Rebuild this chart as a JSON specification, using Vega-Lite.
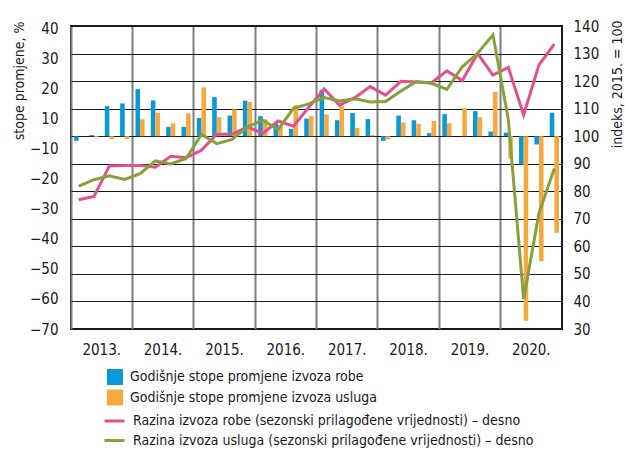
{
  "$schema": "https://vega.github.io/schema/vega-lite/v6.json",
  "width": 491,
  "height": 303,
  "autosize": {"type": "none"},
  "padding": {"left": 71, "top": 26, "right": 63, "bottom": 121},
  "background": "white",
  "config": {
    "font": "Liberation Sans Narrow, Arial Narrow, DejaVu Sans Condensed, sans-serif",
    "view": {"stroke": "#1a1a1a", "strokeWidth": 2}
  },
  "data": {
    "values": [
      {"q": "2013Q1", "stopa_robe": -1.7, "stopa_usluga": 0, "razina_robe": 76.9, "razina_usluga": 81.9},
      {"q": "2013Q2", "stopa_robe": 0.4, "stopa_usluga": -0.4, "razina_robe": 78.1, "razina_usluga": 84.2},
      {"q": "2013Q3", "stopa_robe": 10.9, "stopa_usluga": -1.0, "razina_robe": 89.2, "razina_usluga": 85.6},
      {"q": "2013Q4", "stopa_robe": 11.9, "stopa_usluga": -1.0, "razina_robe": 89.4, "razina_usluga": 84.3},
      {"q": "2014Q1", "stopa_robe": 17.1, "stopa_usluga": 6.1, "razina_robe": 89.4, "razina_usluga": 86.4},
      {"q": "2014Q2", "stopa_robe": 13.0, "stopa_usluga": 8.5, "razina_robe": 88.7, "razina_usluga": 91.0},
      {"q": "2014Q3", "stopa_robe": 3.4, "stopa_usluga": 4.7, "razina_robe": 92.7, "razina_usluga": 89.9},
      {"q": "2014Q4", "stopa_robe": 3.4, "stopa_usluga": 8.3, "razina_robe": 92.2, "razina_usluga": 91.9},
      {"q": "2015Q1", "stopa_robe": 6.6, "stopa_usluga": 17.7, "razina_robe": 94.9, "razina_usluga": 100.6},
      {"q": "2015Q2", "stopa_robe": 14.2, "stopa_usluga": 6.9, "razina_robe": 100.7, "razina_usluga": 97.3},
      {"q": "2015Q3", "stopa_robe": 7.5, "stopa_usluga": 9.7, "razina_robe": 100.7, "razina_usluga": 98.8},
      {"q": "2015Q4", "stopa_robe": 12.9, "stopa_usluga": 12.4, "razina_robe": 103.4, "razina_usluga": 103.4},
      {"q": "2016Q1", "stopa_robe": 7.3, "stopa_usluga": 6.1, "razina_robe": 101.0, "razina_usluga": 105.8},
      {"q": "2016Q2", "stopa_robe": 4.6, "stopa_usluga": 4.0, "razina_robe": 105.5, "razina_usluga": 102.4},
      {"q": "2016Q3", "stopa_robe": 2.7, "stopa_usluga": 11.3, "razina_robe": 103.6, "razina_usluga": 110.1},
      {"q": "2016Q4", "stopa_robe": 6.4, "stopa_usluga": 7.4, "razina_robe": 110.5, "razina_usluga": 111.7},
      {"q": "2017Q1", "stopa_robe": 16.8, "stopa_usluga": 7.9, "razina_robe": 117.1, "razina_usluga": 114.0},
      {"q": "2017Q2", "stopa_robe": 5.8, "stopa_usluga": 10.9, "razina_robe": 111.3, "razina_usluga": 112.8},
      {"q": "2017Q3", "stopa_robe": 8.4, "stopa_usluga": 3.0, "razina_robe": 114.0, "razina_usluga": 113.6},
      {"q": "2017Q4", "stopa_robe": 6.2, "stopa_usluga": 0.4, "razina_robe": 118.0, "razina_usluga": 112.4},
      {"q": "2018Q1", "stopa_robe": -1.7, "stopa_usluga": -1.2, "razina_robe": 114.9, "razina_usluga": 112.6},
      {"q": "2018Q2", "stopa_robe": 7.5, "stopa_usluga": 5.0, "razina_robe": 119.9, "razina_usluga": 116.4},
      {"q": "2018Q3", "stopa_robe": 5.8, "stopa_usluga": 4.5, "razina_robe": 119.7, "razina_usluga": 119.8},
      {"q": "2018Q4", "stopa_robe": 1.1, "stopa_usluga": 5.5, "razina_robe": 119.4, "razina_usluga": 119.2},
      {"q": "2019Q1", "stopa_robe": 8.0, "stopa_usluga": 4.7, "razina_robe": 123.7, "razina_usluga": 117.0},
      {"q": "2019Q2", "stopa_robe": 0, "stopa_usluga": 10.1, "razina_robe": 120.2, "razina_usluga": 125.2},
      {"q": "2019Q3", "stopa_robe": 9.1, "stopa_usluga": 6.9, "razina_robe": 130.0, "razina_usluga": 130.1},
      {"q": "2019Q4", "stopa_robe": 1.7, "stopa_usluga": 16.1, "razina_robe": 122.2, "razina_usluga": 136.8},
      {"q": "2020Q1", "stopa_robe": 1.3, "stopa_usluga": -8.1, "razina_robe": 125.0, "razina_usluga": 106.1},
      {"q": "2020Q2", "stopa_robe": -10.3, "stopa_usluga": -67.0, "razina_robe": 107.7, "razina_usluga": 40.9},
      {"q": "2020Q3", "stopa_robe": -3.0, "stopa_usluga": -45.4, "razina_robe": 125.9, "razina_usluga": 72.1},
      {"q": "2020Q4", "stopa_robe": 8.5, "stopa_usluga": -35.1, "razina_robe": 133.4, "razina_usluga": 88.3}
    ]
  },
  "encoding": {
    "x": {
      "field": "q",
      "type": "ordinal",
      "scale": {"paddingInner": 0, "paddingOuter": 0},
      "axis": {
        "title": null,
        "bandPosition": 0,
        "ticks": false,
        "domain": false,
        "labelAngle": 0,
        "labelAlign": "center",
        "labelBaseline": "top",
        "labelPadding": 13,
        "labelOffset": -7.67,
        "labelFontSize": 15,
        "labelColor": "#1a1a1a",
        "labelOverlap": false,
        "labelExpr": "indexof(datum.value, 'Q3') >= 0 ? slice(datum.value, 0, 4) + '.' : ''",
        "grid": true,
        "gridWidth": 2,
        "gridColor": {"condition": {"test": "indexof(datum.value, 'Q1') >= 0", "value": "#7f7f7f"}, "value": "rgba(0,0,0,0)"}
      }
    }
  },
  "layer": [
    {
      "transform": [{"fold": ["stopa_robe", "stopa_usluga"], "as": ["serija", "vrijednost"]}],
      "mark": {"type": "bar"},
      "encoding": {
        "xOffset": {"field": "serija", "type": "nominal", "scale": {"paddingInner": 0, "paddingOuter": 0.67}},
        "y": {
          "field": "vrijednost",
          "type": "quantitative",
          "scale": {"domain": [-70, 40], "nice": false, "zero": false},
          "axis": {
            "orient": "left",
            "title": "stope promjene, %",
            "titleFontSize": 14,
            "titleFontWeight": "normal",
            "titleColor": "#1a1a1a",
            "titleAngle": -90,
            "titleAlign": "right",
            "titleBaseline": "middle",
            "titleX": -52,
            "titleY": -5,
            "values": [39, 28.1, 17.2, 6.3, -4.6, -15.5, -26.4, -37.3, -48.2, -59.1, -70],
            "labelExpr": "round((39 - datum.value) / 10.9) < 4 ? '' + (40 - 10 * round((39 - datum.value) / 10.9)) : '−' + (10 * round((39 - datum.value) / 10.9) - 30)",
            "labelFontSize": 15,
            "labelColor": "#1a1a1a",
            "labelPadding": 13,
            "grid": false,
            "ticks": false,
            "domain": false
          }
        },
        "fill": {
          "field": "serija",
          "type": "nominal",
          "scale": {"domain": ["stopa_robe", "stopa_usluga"], "range": ["#0a99d7", "#f7a940"]},
          "legend": {
            "title": null,
            "orient": "none",
            "legendX": 36,
            "legendY": 343,
            "direction": "vertical",
            "padding": 0,
            "symbolType": "square",
            "symbolSize": 256,
            "symbolStrokeWidth": 0,
            "labelFontSize": 14,
            "labelColor": "#1a1a1a",
            "labelOffset": 7,
            "labelLimit": 500,
            "rowPadding": 4.5,
            "labelExpr": "datum.label == 'stopa_robe' ? 'Godišnje stope promjene izvoza robe' : 'Godišnje stope promjene izvoza usluga'"
          }
        }
      }
    },
    {
      "transform": [{"fold": ["razina_robe", "razina_usluga"], "as": ["serija", "razina"]}],
      "mark": {"type": "line", "strokeWidth": 3},
      "encoding": {
        "y": {
          "field": "razina",
          "type": "quantitative",
          "scale": {"domain": [30, 140], "nice": false, "zero": false},
          "axis": {
            "orient": "right",
            "title": "indeks, 2015. = 100",
            "titleFontSize": 14,
            "titleFontWeight": "normal",
            "titleColor": "#1a1a1a",
            "titleAngle": -90,
            "titleAlign": "right",
            "titleBaseline": "middle",
            "titleX": 55,
            "titleY": -6,
            "values": [30, 40, 50, 60, 70, 80, 90, 100, 110, 120, 130, 140],
            "labelFontSize": 15,
            "labelColor": "#1a1a1a",
            "labelPadding": 11,
            "grid": true,
            "gridColor": "#1a1a1a",
            "gridWidth": 1.2,
            "ticks": false,
            "domain": false
          }
        },
        "stroke": {
          "field": "serija",
          "type": "nominal",
          "scale": {"domain": ["razina_robe", "razina_usluga"], "range": ["#e2508e", "#86a03c"]},
          "legend": {
            "title": null,
            "orient": "none",
            "legendX": 32,
            "legendY": 383.5,
            "direction": "vertical",
            "padding": 0,
            "symbolType": "stroke",
            "symbolSize": 400,
            "symbolStrokeWidth": 3,
            "labelFontSize": 14,
            "labelColor": "#1a1a1a",
            "labelOffset": 7,
            "labelLimit": 500,
            "rowPadding": 0.5,
            "labelExpr": "datum.label == 'razina_robe' ? 'Razina izvoza robe (sezonski prilagođene vrijednosti) – desno' : 'Razina izvoza usluga (sezonski prilagođene vrijednosti) – desno'"
          }
        }
      }
    }
  ],
  "resolve": {"scale": {"y": "independent"}}
}
